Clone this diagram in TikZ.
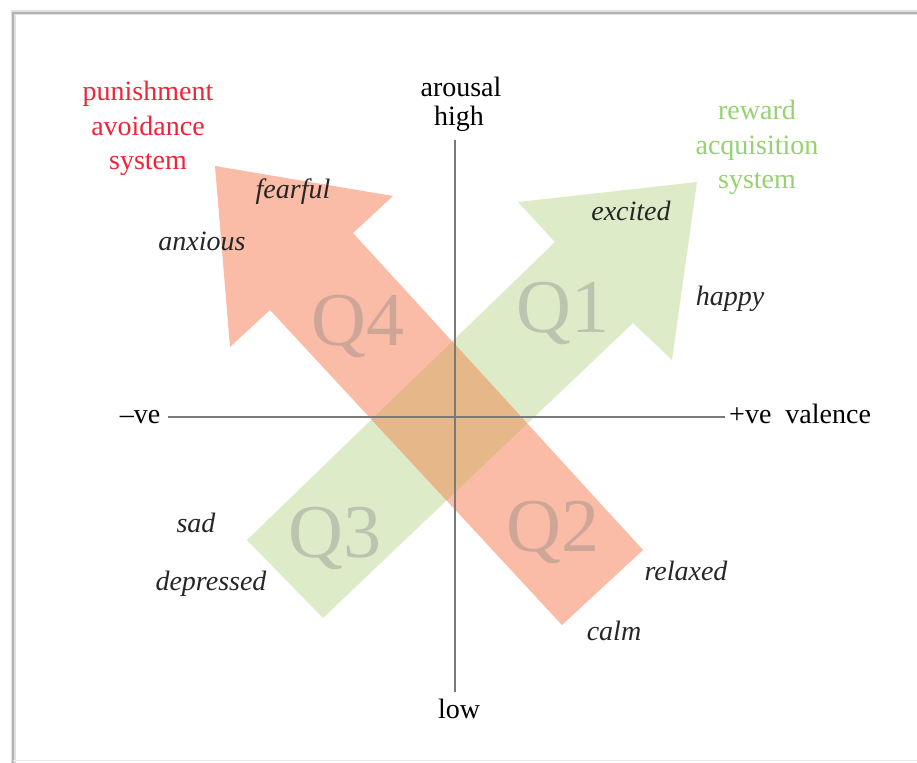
\documentclass[tikz,border=0pt]{standalone}
\usepackage{fontspec}
\setmainfont{Liberation Serif}
\begin{document}
\begin{tikzpicture}[x=1pt,y=-1pt,
  lbl/.style={inner sep=0pt,anchor=base,font=\fontsize{28}{34}\selectfont},
  emo/.style={lbl,font=\fontsize{28}{34}\selectfont\itshape,text=black!85},
  sys/.style={lbl,align=center,anchor=north,font=\fontsize{28}{34.5}\selectfont},
  quad/.style={inner sep=0pt,anchor=base west,font=\fontsize{76}{80}\selectfont,text=gray,text opacity=0.36},
  axis/.style={draw=black!52,line width=2pt}]
\definecolor{redarr}{RGB}{250,188,166}
\definecolor{greenarr}{RGB}{221,235,201}
\definecolor{overlap}{RGB}{230,183,137}
\definecolor{redtxt}{RGB}{240,36,56}
\definecolor{greentxt}{RGB}{150,210,112}
\useasboundingbox (0,0) rectangle (917,762);
\fill[white] (0,0) rectangle (917,762);
% frame
\draw[black!12,line width=5pt] (13,764) -- (13,13) -- (920,13);
\draw[black!30,line width=2pt] (13,764) -- (13,13) -- (920,13);
\draw[black!8,line width=1pt] (13,760) -- (920,760);
% arrows
\fill[greenarr] (247,540) -- (555,242) -- (518,202) -- (697,182) -- (672,360) -- (633,323) -- (323,618) -- cycle;
\fill[redarr] (562,625) -- (270,310) -- (230,347) -- (215,166) -- (393,196) -- (353,233) -- (643,550) -- cycle;
\begin{scope}
\clip (247,540) -- (555,242) -- (518,202) -- (697,182) -- (672,360) -- (633,323) -- (323,618) -- cycle;
\fill[overlap] (562,625) -- (270,310) -- (230,347) -- (215,166) -- (393,196) -- (353,233) -- (643,550) -- cycle;
\end{scope}
% quadrant labels
\node[quad] (q4) at (311,345) {Q4};
\node[quad] (q1) at (516,332) {Q1};
\node[quad] (q3) at (288,557) {Q3};
\node[quad] (q2) at (506,551) {Q2};
% axes
\coordinate (xl) at (168,417);
\coordinate (xr) at (725,417);
\coordinate (yt) at (455,140);
\coordinate (yb) at (455,692);
\draw[axis] (xl) -- (xr);
\draw[axis] (yt) -- (yb);
% axis labels
\node[lbl] (arousal) at (461,97) {arousal};
\node[lbl] (high) at (459,126) {high};
\node[lbl] (low) at (459,718) {low};
\node[lbl] (neg) at (140,423) {–ve};
\node[lbl,anchor=base west] (pos) at (729,423) {+ve\ \ valence};
% systems
\node[sys,text=redtxt] (pun) at (148,81) {punishment\\avoidance\\system};
\node[sys,text=greentxt] (rew) at (757,100) {reward\\acquisition\\system};
% emotions
\node[emo] (fearful) at (293,198) {fearful};
\node[emo] (anxious) at (202,250) {anxious};
\node[emo] (excited) at (631,220) {excited};
\node[emo] (happy) at (730,305) {happy};
\node[emo] (sad) at (196,532) {sad};
\node[emo] (depressed) at (211,590) {depressed};
\node[emo] (relaxed) at (686,580) {relaxed};
\node[emo] (calm) at (614,640) {calm};
\end{tikzpicture}
\end{document}
